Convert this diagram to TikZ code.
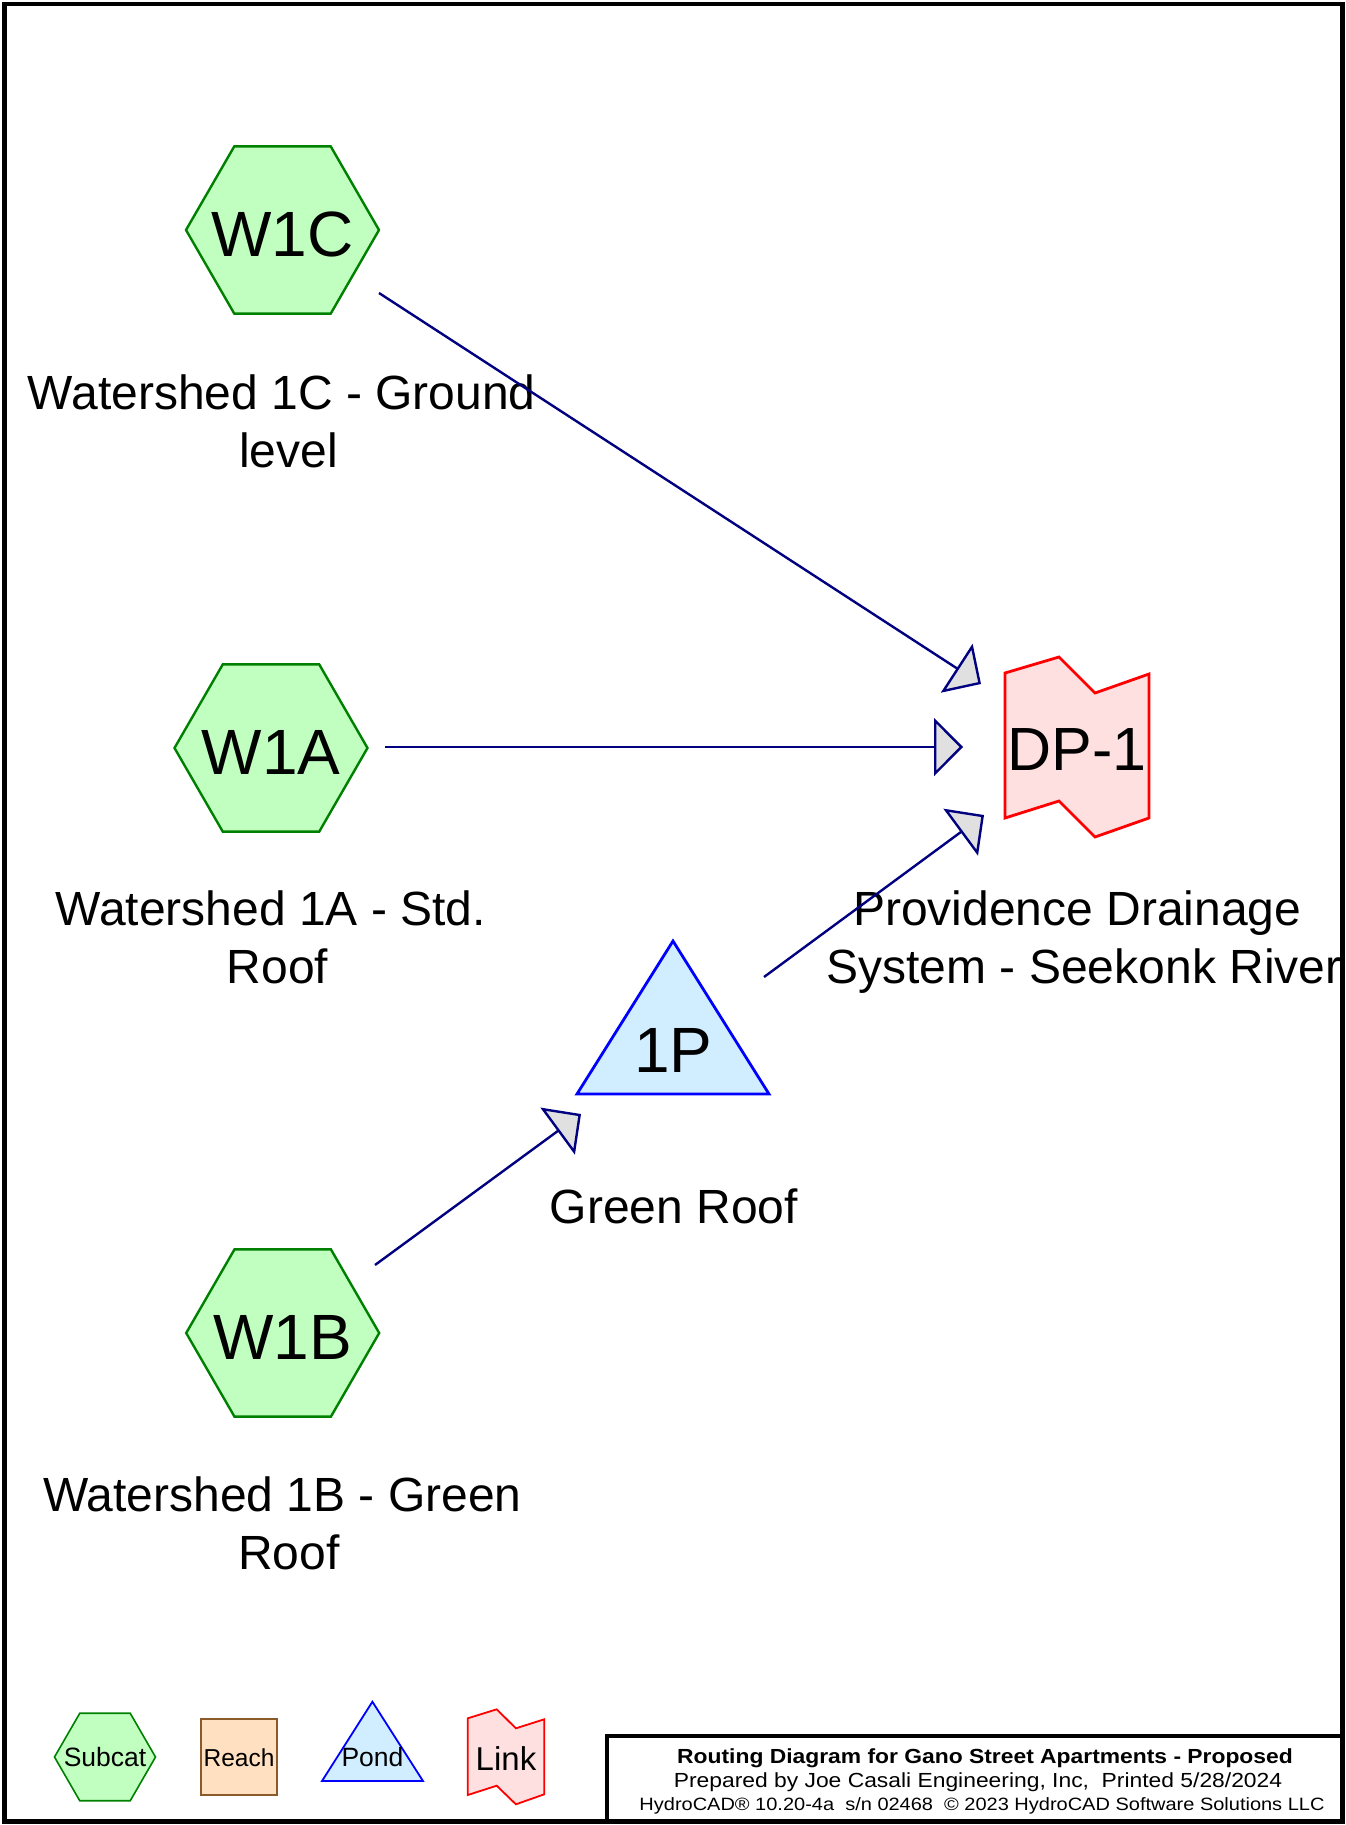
\documentclass[tikz,border=0pt]{standalone}
\usepackage{fontspec}
\setmainfont{Liberation Sans}
\newfontfamily\titlefont[FakeStretch=1.12]{Liberation Sans}
\usetikzlibrary{arrows.meta}
\definecolor{hexfill}{RGB}{192,255,192}
\definecolor{hexline}{RGB}{0,128,0}
\definecolor{pondfill}{RGB}{208,238,255}
\definecolor{pondline}{RGB}{0,0,255}
\definecolor{linkfill}{RGB}{255,224,224}
\definecolor{linkline}{RGB}{255,0,0}
\definecolor{reachfill}{RGB}{255,224,192}
\definecolor{reachline}{RGB}{139,90,43}
\definecolor{flow}{RGB}{0,0,128}
\definecolor{headfill}{RGB}{224,224,224}
\newcommand\drawhex[4]{% x y r linewidth
  \filldraw[hexshape,line width=#4,shift={(#1,#2)}] (-#3,0) -- ({-#3/2},{-0.866*#3}) -- ({#3/2},{-0.866*#3}) -- (#3,0) -- ({#3/2},{0.866*#3}) -- ({-#3/2},{0.866*#3}) -- cycle;}
\begin{document}
\begin{tikzpicture}[x=1pt,y=-1pt,
  hexshape/.style={fill=hexfill,draw=hexline,line join=miter},
  pondshape/.style={fill=pondfill,draw=pondline,line join=miter},
  linkshape/.style={fill=linkfill,draw=linkline,line join=miter},
  reachshape/.style={fill=reachfill,draw=reachline},
  idtext/.style={font=\fontsize{64}{70}\selectfont,anchor=base,inner sep=0pt},
  lbl/.style={font=\fontsize{48}{58}\selectfont,align=center,inner sep=0pt},
  legtext/.style={anchor=base,inner sep=0pt},
  titletext/.style={anchor=base,inner sep=0pt},
  flowarrow/.style={draw=flow,line width=2.4pt,line join=miter,-{Triangle[length=29pt,width=58pt,fill=headfill]}},
]
\useasboundingbox (0,0) rectangle (1345,1825);
\fill[white] (0,0) rectangle (1345,1825);

% ---- shapes ----
\drawhex{282.5}{230}{96.5}{2.4pt}
\drawhex{271}{748}{96.5}{2.4pt}
\drawhex{282.7}{1333}{96.5}{2.4pt}
\filldraw[pondshape,line width=2.8pt] (577,1094) -- (673,941) -- (769,1094) -- cycle;
\filldraw[linkshape,line width=2.8pt] (1005,673) -- (1059,657) -- (1095,693) -- (1149,674) -- (1149,818) -- (1095,837) -- (1059,801) -- (1005,818) -- cycle;

% ---- ids ----
\node[idtext] (w1c) at (282.5,256) {W1C};
\node[idtext] (w1a) at (271,774) {W1A};
\node[idtext] (w1b) at (282.7,1359) {W1B};
\node[idtext] (p1) at (673.5,1072) {1P};
\node[idtext,font=\fontsize{61}{66}\selectfont] (dp1) at (1077,770) {DP-1};

% ---- labels ----
\node[lbl] (w1clbl) at (288.5,426.4) {\strut Watershed 1C - Ground\kern13.3pt\\\strut level};
\node[lbl] (w1albl) at (277.5,942.4) {\strut Watershed 1A - Std.\kern13.3pt\\\strut Roof};
\node[lbl] (w1blbl) at (289,1528.4) {\strut Watershed 1B - Green\kern13.3pt\\\strut Roof};
\node[lbl] (dp1lbl) at (1084,942.4) {\strut Providence Drainage\kern13.3pt\\\strut System - Seekonk River};
\node[lbl,anchor=base] (p1lbl) at (674,1223) {Green Roof};

% ---- connectors ----
\coordinate (w1c-out) at (379,293);
\coordinate (dp1-in1) at (981,684);
\coordinate (w1a-out) at (385,747);
\coordinate (dp1-in2) at (963,747);
\coordinate (p1-out) at (764,977);
\coordinate (dp1-in3) at (984,815);
\coordinate (w1b-out) at (375,1265);
\coordinate (p1-in) at (581,1114);
\draw[flowarrow] (w1c-out) -- (dp1-in1);
\draw[flowarrow] (w1a-out) -- (dp1-in2);
\draw[flowarrow] (p1-out) -- (dp1-in3);
\draw[flowarrow] (w1b-out) -- (p1-in);

% ---- legend ----
\drawhex{105}{1757}{50.5}{1.6pt}
\filldraw[reachshape,line width=2pt] (201,1719) rectangle (277,1795);
\filldraw[pondshape,line width=1.8pt] (322,1781) -- (372.4,1701.7) -- (423,1781) -- cycle;
\filldraw[linkshape,line width=1.8pt] (467.7,1718.3) -- (496.7,1709.3) -- (515.9,1728.3) -- (544.2,1719.3) -- (544.2,1794.3) -- (515.9,1804.3) -- (496.7,1785.7) -- (467.7,1795) -- cycle;
\node[legtext,font=\fontsize{26.5}{30}\selectfont] (legsub) at (105,1766.5) {Subcat};
\node[legtext,font=\fontsize{24.5}{28}\selectfont] (legreach) at (239,1766) {Reach};
\node[legtext,font=\fontsize{26.5}{30}\selectfont] (legpond) at (372.5,1766.5) {Pond};
\node[legtext,font=\fontsize{33}{36}\selectfont] (leglink) at (506,1770) {Link};

% ---- title block ----
\draw[line width=4pt] (607,1736) rectangle (1342.7,1821.2);
\node[titletext,font=\titlefont\bfseries\fontsize{20.4}{24}\selectfont] (title1) at (985,1763) {Routing Diagram for Gano Street Apartments - Proposed};
\node[titletext,font=\titlefont\fontsize{20.4}{24}\selectfont] (title2) at (978,1787) {Prepared by Joe Casali Engineering, Inc,\ \ Printed 5/28/2024};
\node[titletext,font=\titlefont\fontsize{17.85}{21}\selectfont] (title3) at (982,1810) {HydroCAD® 10.20-4a\ \ s/n 02468\ \ © 2023 HydroCAD Software Solutions LLC};

% ---- outer frame ----
\draw[line width=4.8pt] (4.3,4) rectangle (1342.7,1821.2);
\end{tikzpicture}
\end{document}
